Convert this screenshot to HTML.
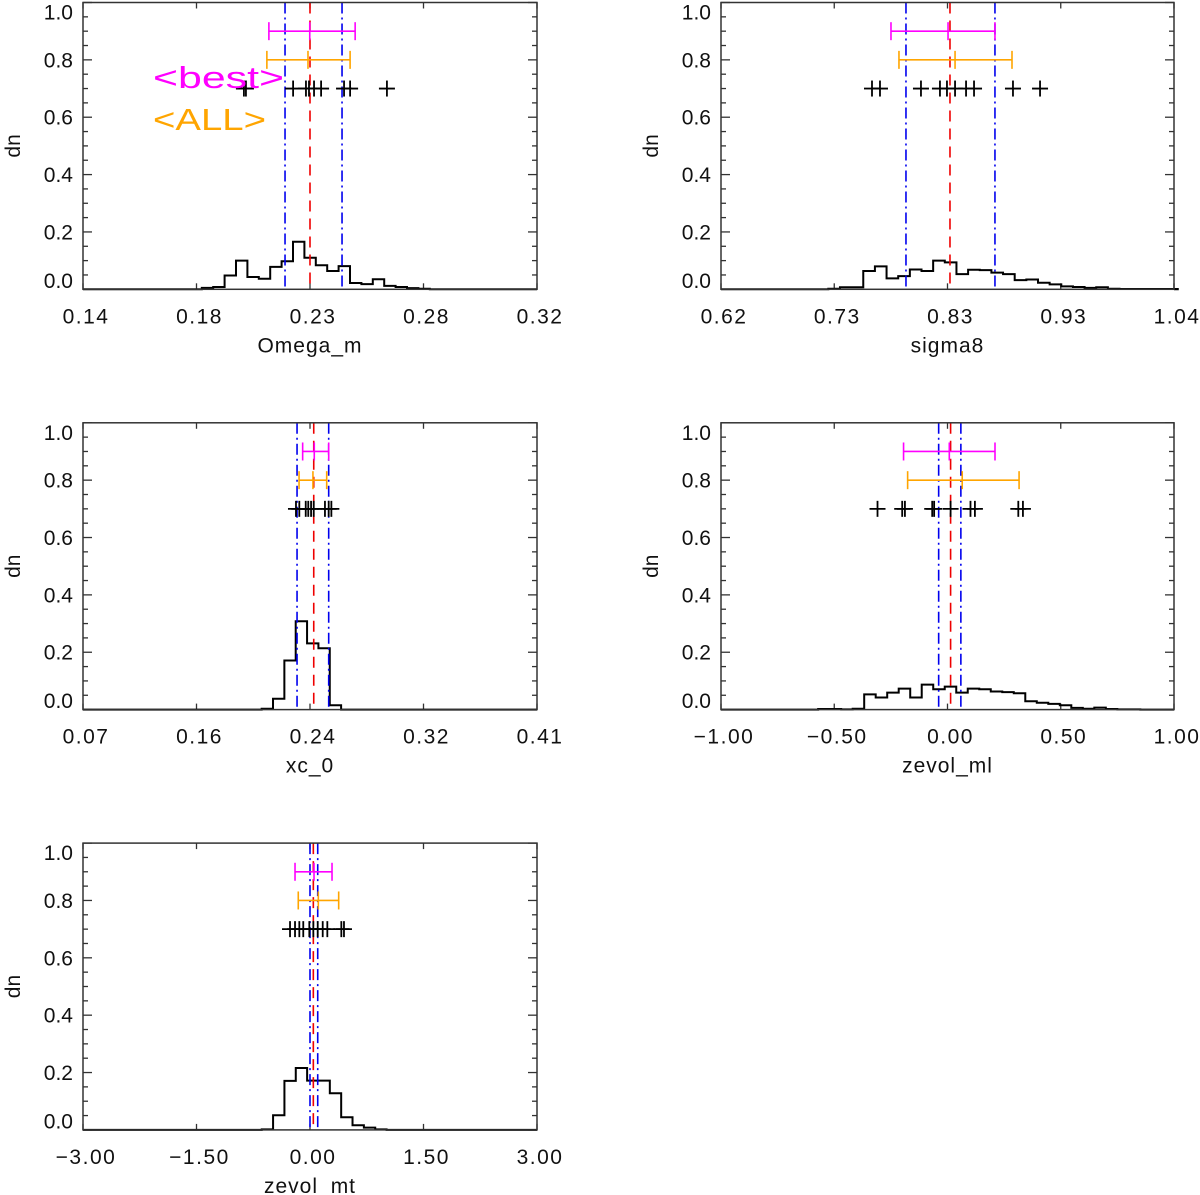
<!DOCTYPE html>
<html><head><meta charset="utf-8"><style>
html,body{margin:0;padding:0;background:#fff;}
svg{display:block;font-family:"Liberation Sans",sans-serif;}
</style></head><body>
<svg id="chart" width="1200" height="1195" viewBox="0 0 1200 1195" xmlns="http://www.w3.org/2000/svg"></svg>
<script>
// ---- Panel 1: Omega_m ----
const p1Ticks = ["0.14","0.18","0.23","0.28","0.32"];
const p1Range = [0.14, 0.32];
const p1HistStart = 0.1871;
const p1HistWidth = 0.00452;
const p1Counts = [0.005,0.008,0.048,0.10,0.043,0.037,0.078,0.098,0.166,0.11,0.084,0.064,0.081,0.022,0.018,0.035,0.012,0.008,0.004,0.002];
const p1Plus = [0.2038,0.2046,0.2233,0.2284,0.2296,0.2316,0.2344,0.2435,0.2459,0.2605];
const p1Best = [0.2137,0.2299,0.2479];
const p1All = [0.2129,0.2292,0.2459];
const p1Blue = [0.2201,0.2427];
const p1Red = 0.23;

// ---- Panel 2: sigma8 ----
const p2Ticks = ["0.62","0.73","0.83","0.93","1.04"];
const p2Range = [0.62, 1.04];
const p2HistStart = 0.7195;
const p2HistWidth = 0.0108;
const p2Counts = [0.002,0.007,0.007,0.064,0.08,0.038,0.046,0.069,0.064,0.10,0.094,0.053,0.068,0.067,0.058,0.053,0.032,0.034,0.023,0.017,0.010,0.008,0.005,0.007,0.002,0.001,0.001,0.001,0.001,0.001];
const p2Plus = [0.760,0.7674,0.8054,0.823,0.8295,0.837,0.8472,0.8546,0.8907,0.9158];
const p2Best = [0.7776,0.8305,0.874];
const p2All = [0.785,0.837,0.8898];
const p2Blue = [0.7915,0.874];
const p2Red = 0.8323;

// ---- Panel 3: xc_0 ----
const p3Ticks = ["0.07","0.16","0.24","0.32","0.41"];
const p3Range = [0.07, 0.41];
const p3HistStart = 0.2038;
const p3HistWidth = 0.0085;
const p3Counts = [0.003,0.038,0.171,0.308,0.231,0.214,0.015];
const p3Plus = [0.2295,0.232,0.2368,0.2387,0.2408,0.2428,0.2512,0.254,0.256];
const p3Best = [0.2345,0.2432,0.254];
const p3All = [0.2318,0.2422,0.2525];
const p3Blue = [0.2303,0.254];
const p3Red = 0.2428;

// ---- Panel 4: zevol_ml ----
const p4Ticks = ["\u22121.00","\u22120.50","0.00","0.50","1.00"];
const p4Range = [-1, 1];
const p4HistStart = -0.571;
const p4HistWidth = 0.0508;
const p4Counts = [0.002,0.002,0.001,0.003,0.053,0.042,0.059,0.073,0.042,0.087,0.071,0.080,0.059,0.073,0.071,0.063,0.061,0.057,0.029,0.024,0.020,0.015,0.006,0.003,0.007,0.002,0.001,0.001];
const p4Plus = [-0.309,-0.2,-0.188,-0.0675,-0.059,0.0137,0.1015,0.121,0.3126,0.333];
const p4Best = [-0.194,0.008,0.2097];
const p4All = [-0.176,0.065,0.316];
const p4Blue = [-0.039,0.059];
const p4Red = 0.0137;

// ---- Panel 5: zevol_mt ----
const p5Ticks = ["\u22123.00","\u22121.50","0.00","1.50","3.00"];
const p5Range = [-3, 3];
const p5HistStart = -0.638;
const p5HistWidth = 0.15;
const p5Counts = [0.002,0.051,0.171,0.216,0.172,0.172,0.128,0.044,0.016,0.008,0.002];
const p5Plus = [-0.264,-0.198,-0.141,-0.089,-0.009,0.044,0.102,0.168,0.229,0.414,0.449];
const p5Best = [-0.198,0.053,0.291];
const p5All = [-0.155,0.110,0.379];
const p5Blue = [0.0,0.102];
const p5Red = 0.044;

const yTickLabels = ["0.0","0.2","0.4","0.6","0.8","1.0"];
const yTickValues = [0,0.2,0.4,0.6,0.8,1.0];

const NS = "http://www.w3.org/2000/svg";
const svg = document.getElementById("chart");
function mk(tag, attrs, parent){
  const e = document.createElementNS(NS, tag);
  for (const k in attrs) e.setAttribute(k, attrs[k]);
  (parent||svg).appendChild(e);
  return e;
}

const panels = [
  {id:"omega-m", label:"Omega_m", col:0,row:0, ticks:p1Ticks, range:p1Range, hs:p1HistStart, hw:p1HistWidth, counts:p1Counts, plus:p1Plus, best:p1Best, all:p1All, blue:p1Blue, red:p1Red},
  {id:"sigma8", label:"sigma8", col:1,row:0, ticks:p2Ticks, range:p2Range, hs:p2HistStart, hw:p2HistWidth, counts:p2Counts, plus:p2Plus, best:p2Best, all:p2All, blue:p2Blue, red:p2Red},
  {id:"xc-0", label:"xc_0", col:0,row:1, ticks:p3Ticks, range:p3Range, hs:p3HistStart, hw:p3HistWidth, counts:p3Counts, plus:p3Plus, best:p3Best, all:p3All, blue:p3Blue, red:p3Red},
  {id:"zevol-ml", label:"zevol_ml", col:1,row:1, ticks:p4Ticks, range:p4Range, hs:p4HistStart, hw:p4HistWidth, counts:p4Counts, plus:p4Plus, best:p4Best, all:p4All, blue:p4Blue, red:p4Red},
  {id:"zevol-mt", label:"zevol_mt", col:0,row:2, ticks:p5Ticks, range:p5Range, hs:p5HistStart, hw:p5HistWidth, counts:p5Counts, plus:p5Plus, best:p5Best, all:p5All, blue:p5Blue, red:p5Red}
];

panels.forEach(p => {
  const L = p.col===0 ? 83 : 721;
  const R = p.col===0 ? 537 : 1174;
  const T = 2.5 + 420.3*p.row;
  const B = T + 286.8;
  const xs = v => L + (v - p.range[0])/(p.range[1]-p.range[0])*(R-L);
  const ys = v => B - v*(B-T);

  const g = mk("g", {});
  
  

  // y ticks (major + minor) on left and right
  for (let i=0;i<=20;i++){
    const y = ys(i*0.05);
    const len = (i%4===0) ? 9 : 5;
    mk("line",{x1:L,y1:y,x2:L+len,y2:y,stroke:"#333","stroke-width":1.3},g);
    mk("line",{x1:R,y1:y,x2:R-len,y2:y,stroke:"#333","stroke-width":1.3},g);
  }
  // y tick labels
  yTickValues.forEach((v,i)=>{
    let y = ys(v)+7.5;
    if (v===1.0) y = T+17;
    if (v===0) y = B-1.5;
    const t = mk("text",{x:L-10,y:y,"text-anchor":"end","font-size":21,fill:"#111"},g);
    t.textContent = yTickLabels[i];
    
    
  });
  // x ticks + labels
  p.ticks.forEach((lab,i)=>{
    const x = L + i*(R-L)/(p.ticks.length-1);
    mk("line",{x1:x,y1:B,x2:x,y2:B-6,stroke:"#333","stroke-width":1.3},g);
    mk("line",{x1:x,y1:T,x2:x,y2:T+6,stroke:"#333","stroke-width":1.3},g);
    const t = mk("text",{x:x+3,y:B+34,"text-anchor":"middle","font-size":21,fill:"#111","letter-spacing":"1.5"},g);
    t.textContent = lab;
    
    
  });
  // axis titles
  const xt = mk("text",{x:(L+R)/2,y:B+63,"text-anchor":"middle","font-size":21,fill:"#111","letter-spacing":"1"},g);
  xt.textContent = p.label;
  
  
  const yx = p.col===0 ? 20 : 658;
  const yc = (T+B)/2;
  const yt = mk("text",{x:yx,y:yc,"text-anchor":"middle","font-size":21,fill:"#111",transform:`rotate(-90 ${yx} ${yc})`},g);
  yt.textContent = "dn";
  
  

  // histogram
  let d = `M${L},${B} L${xs(p.hs)},${B}`;
  p.counts.forEach((c,i)=>{
    const x0 = xs(p.hs + i*p.hw), x1 = xs(p.hs + (i+1)*p.hw);
    d += ` L${x0},${ys(c)} L${x1},${ys(c)}`;
  });
  d += ` L${xs(p.hs + p.counts.length*p.hw)},${B} L${R},${B}`;
  const h = mk("path",{d:d,fill:"none",stroke:"#000","stroke-width":2},g);
  
  

  // blue and red vertical lines
  p.blue.forEach(v=>{
    const l = mk("line",{x1:xs(v),y1:T,x2:xs(v),y2:B,stroke:"#0000ee","stroke-width":1.6,"stroke-dasharray":"11,4,2,4"},g);
    
    
  });
  const rl = mk("line",{x1:xs(p.red),y1:T,x2:xs(p.red),y2:B,stroke:"#ee0000","stroke-width":1.6,"stroke-dasharray":"11,7"},g);
  
  

  // error bars
  function ebar(vals, yv, color, name){
    const y = ys(yv);
    const eg = mk("g",{stroke:color,"stroke-width":1.6},g);
    
    
    mk("line",{x1:xs(vals[0]),y1:y,x2:xs(vals[2]),y2:y},eg);
    [0,1,2].forEach(k=>mk("line",{x1:xs(vals[k]),y1:y-9,x2:xs(vals[k]),y2:y+9},eg));
  }
  ebar(p.best, 0.9, "#ff00ff", "best-error-bar");
  ebar(p.all, 0.8, "#ffa500", "all-error-bar");

  // pluses
  p.plus.forEach(v=>{
    const x = xs(v), y = ys(0.7);
    const pg = mk("g",{stroke:"#000","stroke-width":1.8},g);
    
    
    mk("line",{x1:x-8,y1:y,x2:x+8,y2:y},pg);
    mk("line",{x1:x,y1:y-8,x2:x,y2:y+8},pg);
  });

  // box
  const bx = mk("rect",{x:L,y:T,width:R-L,height:B-T,fill:"none",stroke:"#333","stroke-width":1.5},g);
  
  
});

// legend labels in first panel
const lb = mk("text",{x:153,y:88,"font-size":31,fill:"#ff00ff",textLength:131,lengthAdjust:"spacingAndGlyphs"});
lb.textContent = "<best>";


const la = mk("text",{x:153,y:130,"font-size":31,fill:"#ffa500",textLength:113,lengthAdjust:"spacingAndGlyphs"});
la.textContent = "<ALL>";


</script>
</body></html>
